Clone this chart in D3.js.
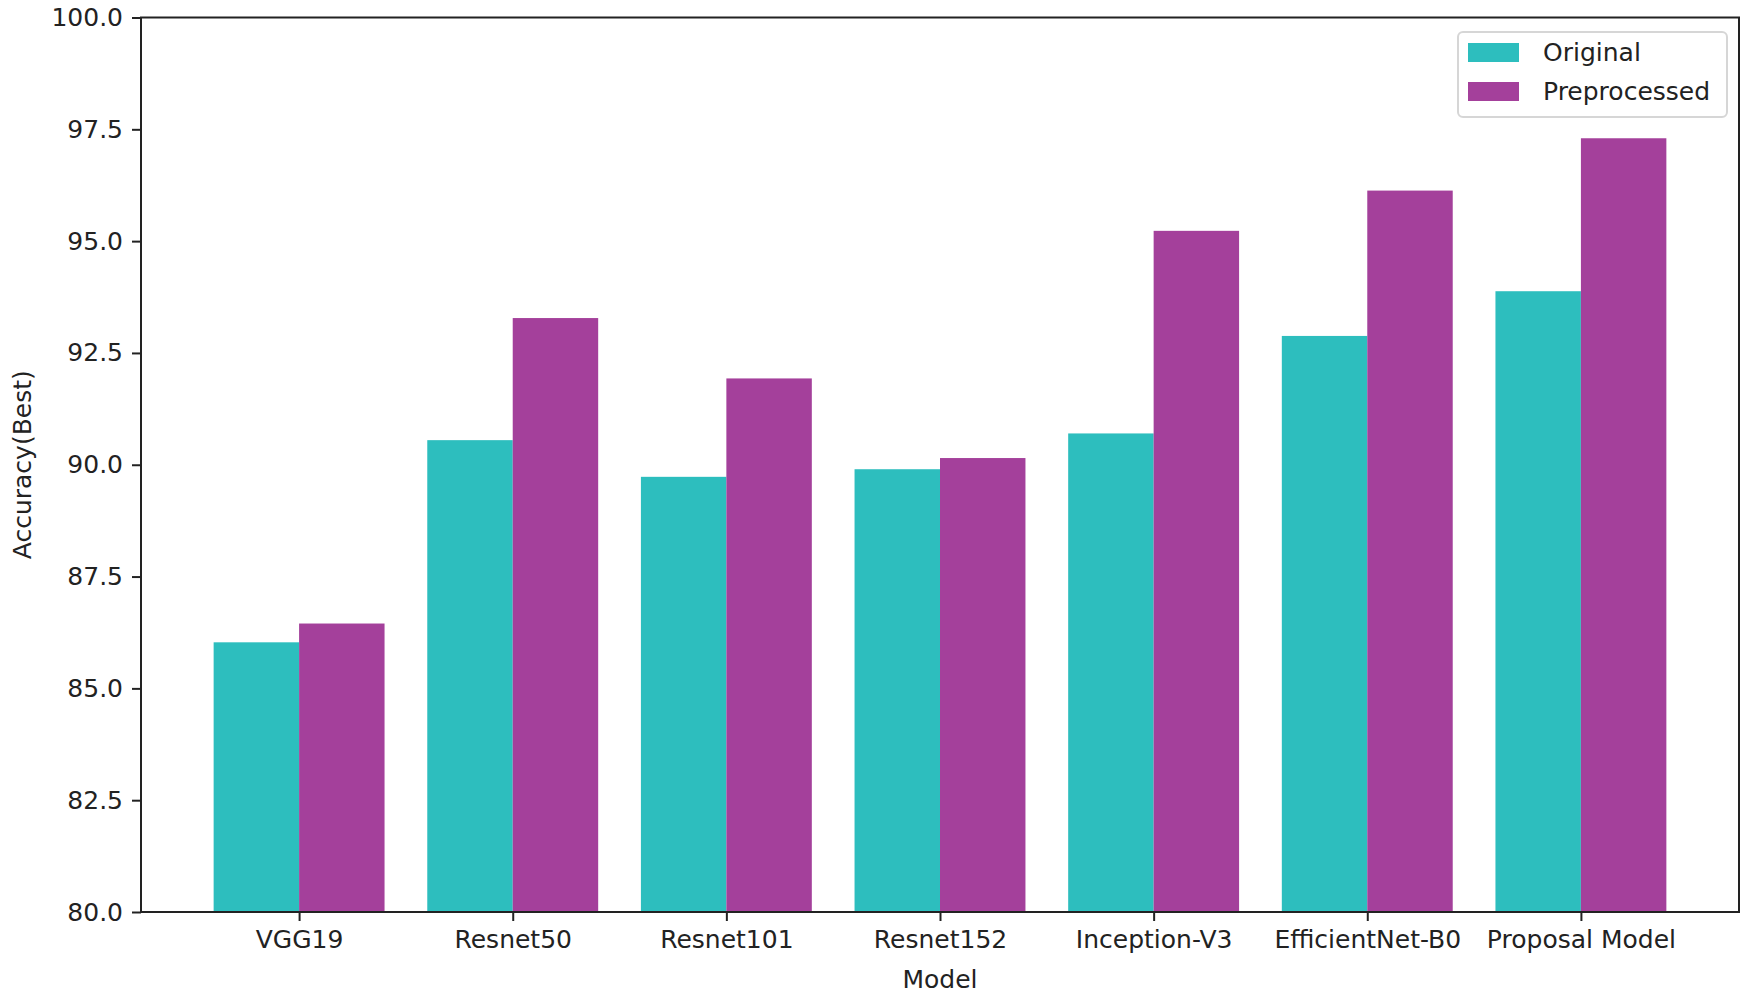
<!DOCTYPE html>
<html>
<head>
<meta charset="utf-8">
<script src="https://cdn.jsdelivr.net/npm/d3@7"></script>
<style>
  body { margin: 0; background: #fff; }
  text { font-family: "DejaVu Sans", sans-serif; fill: #222; }
</style>
</head>
<body>
<script>
var models = ['VGG19', 'Resnet50', 'Resnet101', 'Resnet152', 'Inception-V3', 'EfficientNet-B0', 'Proposal Model'];
var original = [86.03, 90.55, 89.73, 89.9, 90.7, 92.88, 93.88];
var preprocessed = [86.45, 93.28, 91.93, 90.15, 95.23, 96.13, 97.3];
var series = ['Original', 'Preprocessed'];
var colors = ['#2dbebe', '#a4409b'];
var yTicks = [80, 82.5, 85, 87.5, 90, 92.5, 95, 97.5, 100];

var w = 1750, h = 995;
var plotL = 141, plotR = 1739, plotT = 17.5, plotB = 912;
var barW = 0.4;

var svg = d3.select('body').append('svg')
    .attr('width', w)
    .attr('height', h);

var x = d3.scaleLinear().domain([-0.74, 6.74]).range([plotL, plotR]);
var y = d3.scaleLinear().domain([80, 100]).range([plotB, plotT]);
var bw = x(barW) - x(0);

var data = [original, preprocessed];

data.forEach(function(vals, s) {
    svg.append('g').selectAll('rect')
        .data(vals)
        .enter()
        .append('rect')
        .attr('x', function(d, i) { return s === 0 ? x(i) - bw : x(i); })
        .attr('y', function(d) { return y(d); })
        .attr('width', bw)
        .attr('height', function(d) { return y(80) - y(d); })
        .attr('fill', colors[s]);
});

// frame
svg.append('rect')
    .attr('x', plotL).attr('y', plotT)
    .attr('width', plotR - plotL).attr('height', plotB - plotT)
    .attr('fill', 'none')
    .attr('stroke', '#222')
    .attr('stroke-width', 2);

var yAxis = d3.axisLeft(y)
    .tickValues(yTicks)
    .tickFormat(d3.format('.1f'))
    .tickSize(9)
    .tickPadding(9);

var gy = svg.append('g')
    .attr('transform', 'translate(' + plotL + ',0)')
    .call(yAxis);
gy.select('.domain').remove();
gy.selectAll('line').attr('stroke', '#222').attr('stroke-width', 2);
gy.selectAll('text').style('font-size', '25px').attr('fill', '#222')
    .style('font-family', '"DejaVu Sans", sans-serif');

var xAxis = d3.axisBottom(x)
    .tickValues(d3.range(models.length))
    .tickFormat(function(d) { return models[d]; })
    .tickSize(9)
    .tickPadding(9);

var gx = svg.append('g')
    .attr('transform', 'translate(0,' + plotB + ')')
    .call(xAxis);
gx.select('.domain').remove();
gx.selectAll('line').attr('stroke', '#222').attr('stroke-width', 2);
gx.selectAll('text').style('font-size', '25px').attr('fill', '#222')
    .style('font-family', '"DejaVu Sans", sans-serif');

svg.append('text')
    .attr('x', (plotL + plotR) / 2)
    .attr('y', 988)
    .attr('text-anchor', 'middle')
    .style('font-size', '25px')
    .text('Model');

svg.append('text')
    .attr('transform', 'translate(31,' + ((plotT + plotB) / 2) + ') rotate(-90)')
    .attr('text-anchor', 'middle')
    .style('font-size', '25px')
    .text('Accuracy(Best)');

// legend
var lg = svg.append('g');
lg.append('rect')
    .attr('x', 1458).attr('y', 32)
    .attr('width', 269).attr('height', 85)
    .attr('rx', 5)
    .attr('fill', '#fff')
    .attr('fill-opacity', 0.8)
    .attr('stroke', '#d6d6d6')
    .attr('stroke-width', 2);

series.forEach(function(name, i) {
    lg.append('rect')
        .attr('x', 1468).attr('y', 43 + i * 39)
        .attr('width', 51).attr('height', 19)
        .attr('fill', colors[i]);
    lg.append('text')
        .attr('x', 1543).attr('y', 61 + i * 39)
        .style('font-size', '25px')
        .text(name);
});
</script>
</body>
</html>
